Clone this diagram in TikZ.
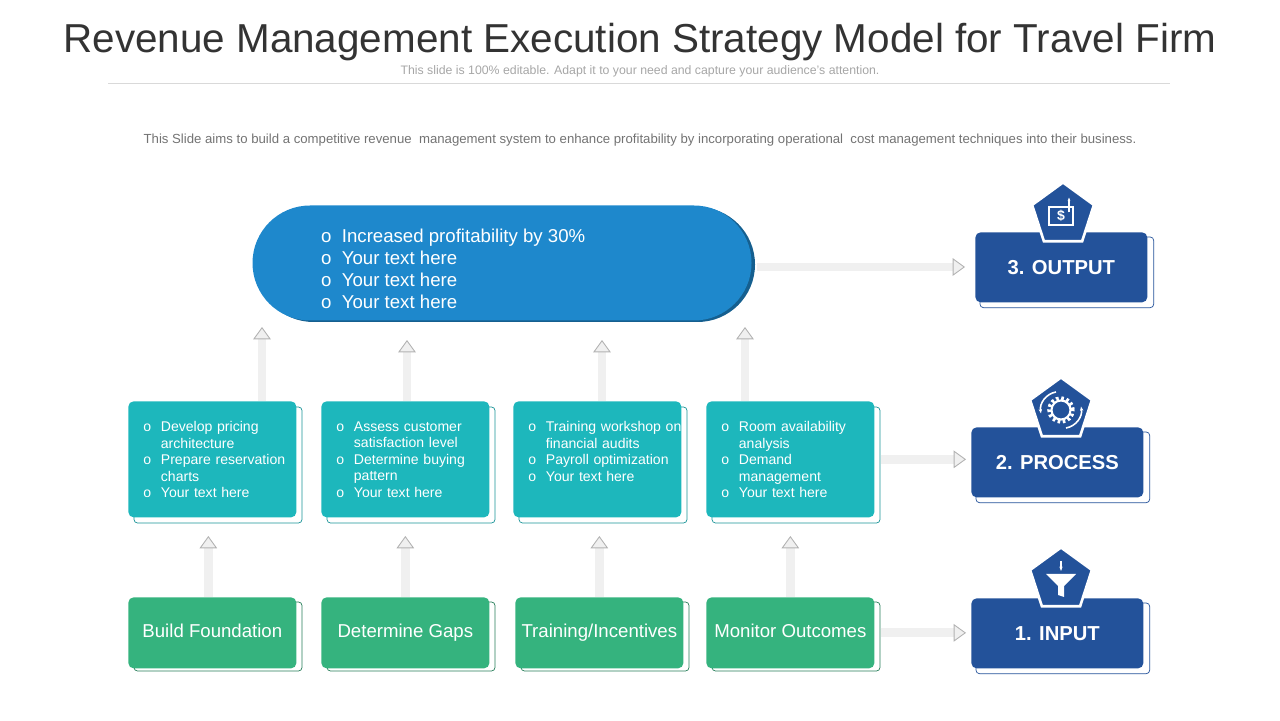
\documentclass[tikz,border=0pt]{standalone}
\usepackage{fontspec}
\setmainfont{Liberation Sans}
\usetikzlibrary{arrows.meta,shapes.geometric,positioning}
\definecolor{pillblue}{HTML}{1E88CC}
\definecolor{tealbox}{HTML}{1DB7BC}
\definecolor{greenbox}{HTML}{35B37E}
\definecolor{navy}{HTML}{23529A}
\definecolor{titlegray}{HTML}{333333}
\newcommand{\bl}{\makebox[1.25em][l]{o}}
\newcommand{\ct}{\hspace*{1.25em}}
\tikzset{
  card/.style={rounded corners=3pt, minimum width=3.36cm, text=white},
  tealcard/.style={card, fill=tealbox, minimum height=2.32cm, anchor=north west},
  tealtext/.style={text=white, text width=3.1cm, align=left, font=\fontsize{8}{9.4}\selectfont, anchor=north west, inner sep=0pt},
  greencard/.style={card, fill=greenbox, minimum height=1.42cm, text height=8pt, text depth=2.5pt, font=\fontsize{10.6}{12}\selectfont, anchor=north west},
  navycard/.style={card, fill=navy, minimum width=3.44cm, minimum height=1.4cm, font=\bfseries\fontsize{11.5}{13}\selectfont, anchor=north west},
  ghost/.style={draw=navy, line width=0.4pt, rounded corners=2pt},
  flowarrow/.style={line width=5pt, draw=gray!12, -{Triangle[length=7pt,width=10pt,fill=gray!12,color=gray!60,line width=0.5pt]}},
  badge/.style={regular polygon, regular polygon sides=5, fill=navy, draw=white, line width=1.5pt, minimum size=1.3cm, text=white}
}
\begin{document}
\begin{tikzpicture}[x=1cm,y=1cm]
\useasboundingbox (0,0) rectangle (25.6,14.4);
% header
\node[text=titlegray, font=\fontsize{23}{26}\selectfont] (title) at (12.8,13.56) {Revenue Management Execution Strategy Model for Travel Firm};
\node[text=gray!70, font=\fontsize{7}{8}\selectfont] (sub) at (12.8,12.98) {This slide is 100\% editable. Adapt it to your need and capture your audience's attention.};
\draw[gray!30] (2.16,12.74) -- (23.4,12.74);
\node[text=gray!90!black, font=\fontsize{7.5}{8}\selectfont] (desc) at (12.8,11.6) {This Slide aims to build a competitive revenue\ \ management system to enhance profitability by incorporating operational\ \ cost management techniques into their business.};
% output pill
\fill[pillblue!70!black, rounded corners=1.15cm] (5.12,7.96) rectangle (15.1,10.26);
\node[fill=pillblue, rounded corners=1.15cm, minimum width=9.98cm, minimum height=2.3cm] (pill) at (10.04,9.14) {};
\node[text=white, align=left, font=\fontsize{10.6}{12.6}\selectfont, anchor=north west] (pilltext) at (6.3,9.95) {o\ \ Increased profitability by 30\%\\o\ \ Your text here\\o\ \ Your text here\\o\ \ Your text here};
% teal cards
\foreach \i/\x/\txt in {1/2.56/{\bl Develop pricing\\\ct architecture\\\bl Prepare reservation\\\ct charts\\\bl Your text here},
  2/6.42/{\bl Assess customer\\\ct satisfaction level\\\bl Determine buying\\\ct pattern\\\bl Your text here},
  3/10.26/{\bl Training workshop on\\\ct financial audits\\\bl Payroll optimization\\\bl Your text here},
  4/14.12/{\bl Room availability\\\ct analysis\\\bl Demand\\\ct management\\\bl Your text here}} {
  \draw[draw=tealbox!80!black, rounded corners=2pt] (\x+0.12,3.94) rectangle (\x+3.48,6.26);
  \node[tealcard] (t\i) at (\x,6.38) {};
  \node[tealtext] (tt\i) at (\x+0.3,5.98) {\txt};
}
% green cards
\foreach \i/\x/\txt in {1/2.56/{Build Foundation}, 2/6.42/{Determine Gaps}, 3/10.3/{Training/Incentives}, 4/14.12/{Monitor Outcomes}} {
  \draw[draw=greenbox!70!black, rounded corners=2pt] (\x+0.12,0.98) rectangle (\x+3.48,2.36);
  \node[greencard] (g\i) at (\x,2.46) {\txt};
}
% right hand stages
\foreach \n/\x/\y/\txt in {out/19.5/9.76/{3. OUTPUT}, proc/19.42/5.86/{2. PROCESS}, inp/19.42/2.44/{1. INPUT}} {
  \node[navycard] (\n) at (\x,\y) {\txt};
}
\draw[ghost] ([shift={(0.1,-0.1)}]out.north west) rectangle ([shift={(0.12,-0.1)}]out.south east);
\draw[ghost] ([shift={(0.1,-0.1)}]proc.north west) rectangle ([shift={(0.12,-0.1)}]proc.south east);
\draw[ghost] ([shift={(0.1,-0.1)}]inp.north west) rectangle ([shift={(0.12,-0.1)}]inp.south east);
\node[badge] (bout) at (21.26,10.1) {};
\node[badge] (bproc) at (21.22,6.2) {};
\node[badge] (binp) at (21.22,2.8) {};
% icons
\draw[white, line width=0.8pt] ([shift={(-0.28,-0.2)}]bout.center) rectangle ([shift={(0.2,0.16)}]bout.center);
\node[text=white, font=\bfseries\fontsize{8}{8}\selectfont] at ([xshift=-0.04cm,yshift=-0.02cm]bout.center) {\$};
\draw[white, line width=0.8pt, -{Stealth[length=2pt]}] ([shift={(0.12,0.05)}]bout.center) -- ++(0,0.3);
\draw[white, line width=1.2pt] (bproc.center) circle (0.19);
\draw[white, line width=2pt, dash pattern=on 1.5pt off 1.5pt] (bproc.center) circle (0.24);
\draw[white, line width=0.9pt, -{Stealth[length=2.5pt]}] ([shift={(-0.1,0.36)}]bproc.center) arc (100:190:0.37);
\draw[white, line width=0.9pt, -{Stealth[length=2.5pt]}] ([shift={(0.1,-0.36)}]bproc.center) arc (280:370:0.37);
\fill[white] ([shift={(-0.3,0.12)}]binp.center) -- ([shift={(0.3,0.12)}]binp.center) -- ([shift={(0.06,-0.12)}]binp.center) -- ([shift={(0.06,-0.34)}]binp.center) -- ([shift={(-0.06,-0.3)}]binp.center) -- ([shift={(-0.06,-0.12)}]binp.center) -- cycle;
\draw[white, line width=1pt, -{Stealth[length=2.5pt]}] ([shift={(0,0.38)}]binp.center) -- ++(0,-0.2);
% connectors
\draw[flowarrow] ([shift={(0.1,-0.08)}]pill.east) coordinate (pe) -- ([xshift=-0.2cm]pe -| out.west);
\draw[flowarrow] ([xshift=0.12cm]t4.east) coordinate (te) -- ([xshift=-0.1cm]te -| proc.west);
\draw[flowarrow] ([xshift=0.12cm]g4.east) coordinate (ge) -- ([xshift=-0.1cm]ge -| inp.west);
\foreach \i/\dx in {1/-0.08,2/0,3/0,4/0} {
  \draw[flowarrow] ([xshift=\dx cm]g\i.north) -- ++(0,1.22);
}
\draw[flowarrow] ([xshift=2.68cm]t1.north west) -- ++(0,1.48);
\draw[flowarrow] ([xshift=1.72cm]t2.north west) -- ++(0,1.22);
\draw[flowarrow] ([xshift=1.78cm]t3.north west) -- ++(0,1.22);
\draw[flowarrow] ([xshift=0.78cm]t4.north west) -- ++(0,1.48);
\end{tikzpicture}
\end{document}
